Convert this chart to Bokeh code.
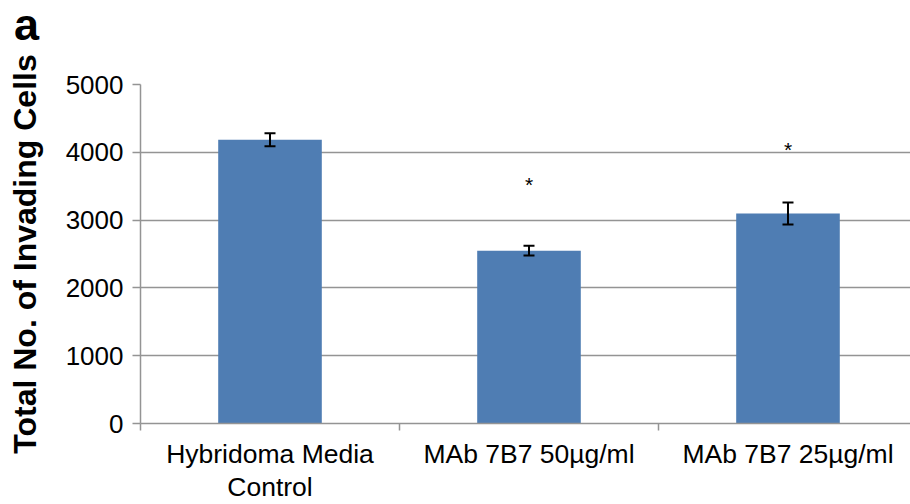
from bokeh.plotting import figure
from bokeh.layouts import column
from bokeh.models import (Range1d, FixedTicker, ColumnDataSource, Whisker, TeeHead,
                          NumeralTickFormatter, Div)
from bokeh.core.properties import value
from bokeh.embed import file_html
from bokeh.resources import INLINE

# ---- data ----
categories = ["Hybridoma Media\nControl", "MAb 7B7 50µg/ml", "MAb 7B7 25µg/ml"]
cells = [4185, 2549, 3098]
errors = [95, 72, 162]
star_y = [3527, 4047]          # baseline of significance asterisks
star_cat = [1, 2]
y_ticks = [0, 1000, 2000, 3000, 4000, 5000]
panel_label = "a"

FONT = "Liberation Sans"
GRAY = "#949494"
BAR = "#4F7DB3"

xs = [i + 0.5 for i in range(len(categories))]

p = figure(width=910, height=454, output_backend="svg", toolbar_location=None,
           x_range=Range1d(0, 2.973), y_range=Range1d(0, 5000),
           min_border_left=140, min_border_right=0, min_border_top=34,
           min_border_bottom=80)
p.outline_line_color = None
p.background_fill_color = "white"

src = ColumnDataSource(dict(x=xs, top=cells,
                            upper=[c + e for c, e in zip(cells, errors)],
                            lower=[c - e for c, e in zip(cells, errors)]))
p.vbar(x="x", top="top", width=0.4, bottom=0, source=src,
       fill_color=BAR, line_color=None)

w = Whisker(source=src, base="x", upper="upper", lower="lower",
            line_color="black", line_width=2, level="overlay",
            upper_head=TeeHead(size=11, line_color="black", line_width=2),
            lower_head=TeeHead(size=11, line_color="black", line_width=2))
p.add_layout(w)

p.text(x=[xs[i] for i in star_cat], y=star_y, text=["*", "*"],
       text_font=value(FONT), text_font_size="21px", text_color="black",
       text_align="center", text_baseline="alphabetic")

# x axis
xa = p.xaxis[0]
xa.ticker = FixedTicker(ticks=xs, minor_ticks=[0, 1, 2, 3])
xa.major_label_overrides = {x: c for x, c in zip(xs, categories)}
xa.major_tick_line_color = None
xa.major_tick_out = 0
xa.major_tick_in = 0
xa.minor_tick_out = 7
xa.minor_tick_in = 0
xa.minor_tick_line_color = GRAY
xa.minor_tick_line_width = 1.5
xa.axis_line_color = GRAY
xa.axis_line_width = 1.5
xa.major_label_text_font = FONT
xa.major_label_text_font_size = "26.5px"
xa.major_label_text_color = "black"
xa.major_label_text_line_height = 1.1
xa.major_label_standoff = 8

# y axis
ya = p.yaxis[0]
ya.ticker = FixedTicker(ticks=y_ticks, minor_ticks=[])
ya.formatter = NumeralTickFormatter(format="0")
ya.major_tick_out = 8
ya.major_tick_in = 0
ya.major_tick_line_color = GRAY
ya.major_tick_line_width = 1.5
ya.axis_line_color = GRAY
ya.axis_line_width = 1.5
ya.major_label_text_font = FONT
ya.major_label_text_font_size = "26px"
ya.major_label_text_color = "black"
ya.major_label_standoff = 9
ya.axis_label = "Total No. of Invading Cells"
ya.axis_label_text_font = FONT
ya.axis_label_text_font_size = "32px"
ya.axis_label_text_font_style = "bold"
ya.axis_label_text_color = "black"
ya.axis_label_standoff = 20

p.xgrid.visible = False
p.ygrid.ticker = FixedTicker(ticks=y_ticks, minor_ticks=[])
p.ygrid.grid_line_color = GRAY
p.ygrid.grid_line_width = 1.5

head = Div(text=panel_label, width=910, height=50, margin=(0, 0, 0, 0),
           styles={"font-family": FONT, "font-size": "45px", "font-weight": "bold",
                   "line-height": "50px", "padding-left": "14px", "color": "black",
                   "box-sizing": "border-box"})

layout = column(head, p, spacing=0)
open("out.html", "w").write(file_html(layout, INLINE))
